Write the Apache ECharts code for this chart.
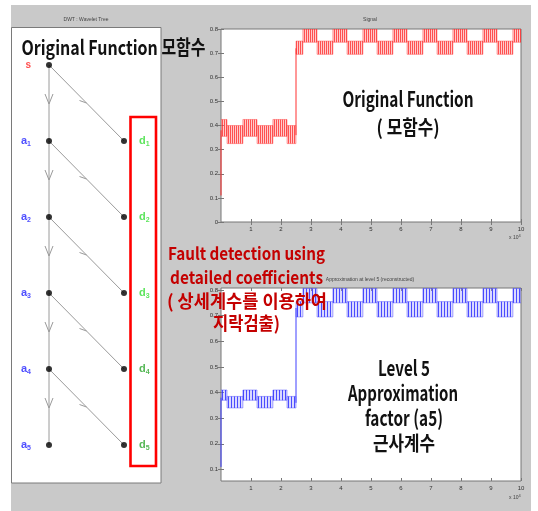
<!DOCTYPE html>
<html>
<head>
<meta charset="utf-8">
<script src="https://cdn.jsdelivr.net/npm/echarts@6/dist/echarts.min.js"></script>
<style>
html, body { margin: 0; padding: 0; background: #fff; }
#chart { width: 538px; height: 511px; }
</style>
</head>
<body>
<div id="chart"></div>
<script>
// ---------------- data ----------------
// time axis in units of 10^4 samples
const xTicks = [1, 2, 3, 4, 5, 6, 7, 8, 9, 10];
const signalYTicks = [0, 0.1, 0.2, 0.3, 0.4, 0.5, 0.6, 0.7, 0.8];
const approxYTicks = [0.1, 0.2, 0.3, 0.4, 0.5, 0.6, 0.7, 0.8];

// piecewise segments of the signal: each segment oscillates between a min and a max
const segStart = [0, 0.2, 0.73, 1.2, 1.73, 2.2, 2.5, 2.73, 3.2, 3.73, 4.2, 4.73, 5.2, 5.73, 6.2, 6.73, 7.2, 7.73, 8.2, 8.73, 9.2, 9.73];
const segEnd   = [0.2, 0.73, 1.2, 1.73, 2.2, 2.5, 2.73, 3.2, 3.73, 4.2, 4.73, 5.2, 5.73, 6.2, 6.73, 7.2, 7.73, 8.2, 8.73, 9.2, 9.73, 10];

// original signal s
const signalMin = [0.355, 0.325, 0.355, 0.325, 0.355, 0.325, 0.695, 0.745, 0.695, 0.745, 0.695, 0.745, 0.695, 0.745, 0.695, 0.745, 0.695, 0.745, 0.695, 0.745, 0.695, 0.745];
const signalMax = [0.425, 0.400, 0.425, 0.400, 0.425, 0.400, 0.750, 0.800, 0.750, 0.800, 0.750, 0.800, 0.750, 0.800, 0.750, 0.800, 0.750, 0.800, 0.750, 0.800, 0.750, 0.800];
const signalRise = [[0, 0.11], [0, 0.38]];
const signalStep = [[2.5, 0.36], [2.5, 0.72]];

// level-5 approximation a5 (reconstructed)
const approxMin = [0.370, 0.340, 0.370, 0.340, 0.370, 0.340, 0.695, 0.750, 0.695, 0.750, 0.695, 0.750, 0.695, 0.750, 0.695, 0.750, 0.695, 0.750, 0.695, 0.750, 0.695, 0.750];
const approxMax = [0.410, 0.385, 0.410, 0.385, 0.410, 0.385, 0.755, 0.806, 0.755, 0.806, 0.755, 0.806, 0.755, 0.806, 0.755, 0.806, 0.755, 0.806, 0.755, 0.806, 0.755, 0.806];
const approxRise = [[0, 0.11], [0, 0.38]];
const approxStep = [[2.5, 0.36], [2.5, 0.73]];

// wavelet decomposition tree
const approxNodes = ['s', 'a1', 'a2', 'a3', 'a4', 'a5'];
const detailNodes = ['d1', 'd2', 'd3', 'd4', 'd5'];

// ---------------- helpers ----------------
function stripePattern(w, lineColor, fillColor) {
  const c = document.createElement('canvas');
  c.width = w; c.height = 4;
  const g = c.getContext('2d');
  g.fillStyle = fillColor; g.fillRect(0, 0, w, 4);
  g.fillStyle = lineColor; g.fillRect(0, 0, 1, 4);
  return { image: c, repeat: 'repeat' };
}
const redStripes = stripePattern(2, 'rgba(255,30,30,0.7)', 'rgba(255,140,140,0.45)');
const blueStripes = stripePattern(3, 'rgba(40,40,255,0.8)', 'rgba(150,150,255,0.35)');

function bandSeries(xi, yi, mins, maxs, pattern, edge) {
  return {
    type: 'custom', xAxisIndex: xi, yAxisIndex: yi, clip: true, z: 3,
    data: segStart.map((s, i) => [s, segEnd[i], mins[i], maxs[i]]),
    encode: { x: [0, 1], y: [2, 3] },
    renderItem(params, api) {
      const p0 = api.coord([api.value(0), api.value(3)]);
      const p1 = api.coord([api.value(1), api.value(2)]);
      return {
        type: 'rect',
        shape: { x: p0[0], y: p0[1], width: p1[0] - p0[0], height: p1[1] - p0[1] },
        style: { fill: pattern, stroke: edge, lineWidth: 0.6 }
      };
    }
  };
}
function edgeLine(xi, yi, data, color) {
  return {
    type: 'line', xAxisIndex: xi, yAxisIndex: yi, data: data, z: 4,
    symbol: 'none', lineStyle: { color: color, width: 1 }, animation: false
  };
}

const tickFont = { fontFamily: 'Liberation Sans', fontSize: 6, color: '#333' };
const axisGray = '#777';

function xAxes(gridIndex) {
  const base = {
    type: 'value', gridIndex: gridIndex, min: 0, max: 10,
    axisLine: { show: false }, splitLine: { show: false },
    axisTick: { inside: true, length: 3, lineStyle: { color: axisGray }, customValues: xTicks }
  };
  return [
    Object.assign({}, base, { position: 'bottom',
      axisLabel: Object.assign({ customValues: xTicks, margin: 4 }, tickFont) }),
    Object.assign({}, base, { position: 'top', axisLabel: { show: false } })
  ];
}
function yAxes(gridIndex, min, max, ticks) {
  const base = {
    type: 'value', gridIndex: gridIndex, min: min, max: max,
    axisLine: { show: false }, splitLine: { show: false },
    axisTick: { inside: true, length: 3, lineStyle: { color: axisGray }, customValues: ticks }
  };
  return [
    Object.assign({}, base, { position: 'left',
      axisLabel: Object.assign({ customValues: ticks, margin: 3, formatter: v => String(+v.toFixed(2)) }, tickFont) }),
    Object.assign({}, base, { position: 'right', axisLabel: { show: false } })
  ];
}

// tree edges: approximation chain and detail branches
const treeEdges = [];
for (let i = 0; i < approxNodes.length - 1; i++) {
  treeEdges.push([0, i, 0, i + 1]);
  treeEdges.push([0, i, 1, i + 1]);
}
const treePoints = approxNodes.map((n, i) => ({ value: [0, i], name: n,
    label: { position: 'left', distance: 15 } }))
  .concat(detailNodes.map((n, i) => ({ value: [1, i + 1], name: n,
    label: { position: 'right', distance: 12 } })));

function nodeLabel(p) {
  const n = p.name;
  if (n === 's') return '{s|s}';
  const k = n[0], idx = +n.slice(1);
  if (k === 'a') return '{a|a}{as|' + idx + '}';
  return idx <= 3 ? '{d|d}{ds|' + idx + '}' : '{e|d}{es|' + idx + '}';
}

// annotation text, horizontally condensed to a given width
const bigFont = 'Noto Sans CJK KR';
const measureCtx = document.createElement('canvas').getContext('2d');
function bigText(text, x, y, size, color, width, align) {
  measureCtx.font = 'bold ' + size + 'px "' + bigFont + '"';
  const w = measureCtx.measureText(text).width;
  return {
    type: 'text', z: 100, x: x, y: y, scaleX: width / w,
    style: { text: text, fontFamily: bigFont, fontSize: size, fontWeight: 'bold',
      fill: color, align: align || 'center', verticalAlign: 'middle' }
  };
}
function smallTitle(text, x, y) {
  return {
    type: 'text', z: 5, x: x, y: y,
    style: { text: text, fontFamily: 'Liberation Sans', fontSize: 5, fill: '#444',
      align: 'center', verticalAlign: 'middle' }
  };
}
function expLabel(x, y) {
  return { type: 'text', z: 5, x: x, y: y, style: { text: 'x 10{s|4}', fontFamily: 'Liberation Sans', fontSize: 5, fill: '#444',
    rich: { s: { fontSize: 4, padding: [0, 0, 4, 0], fill: '#444' } } } };
}

const black = '#111';
const red = '#c40000';

const option = {
  animation: false,
  backgroundColor: '#fff',
  grid: [
    { left: 49, top: 65, width: 75, height: 380, show: false },
    { left: 221, top: 29, width: 300, height: 193, show: true, backgroundColor: '#fff', borderColor: axisGray, borderWidth: 1 },
    { left: 221, top: 288, width: 300, height: 193, show: true, backgroundColor: '#fff', borderColor: axisGray, borderWidth: 1 }
  ],
  xAxis: [
    { type: 'value', gridIndex: 0, min: 0, max: 1, show: false }
  ].concat(xAxes(1), xAxes(2)),
  yAxis: [
    { type: 'value', gridIndex: 0, min: 0, max: 5, inverse: true, show: false }
  ].concat(yAxes(1, 0, 0.8, signalYTicks), yAxes(2, 0.055, 0.808, approxYTicks)),
  graphic: [
    { type: 'rect', z: -100, shape: { x: 11, y: 5, width: 520, height: 506 }, style: { fill: '#c9c9c9' } },
    { type: 'rect', z: -90, shape: { x: 11.5, y: 27.5, width: 149.5, height: 455.5 }, style: { fill: '#fff', stroke: '#7a7a7a', lineWidth: 1 } },
    smallTitle('DWT : Wavelet Tree', 86, 20),
    smallTitle('Signal', 370, 20),
    smallTitle('Approximation at level 5 (reconstructed)', 370, 280),
    expLabel(509, 234),
    expLabel(509, 494),
    // highlight box around the detail coefficients
    { type: 'rect', z: 50, shape: { x: 130.5, y: 117, width: 25.5, height: 349 }, style: { fill: 'none', stroke: '#ff0000', lineWidth: 2.6 } },
    bigText('Original Function 모함수', 21.5, 47, 20, black, 184, 'left'),
    bigText('Original Function', 408, 99, 21, black, 131),
    bigText('( 모함수)', 408, 127, 20, black, 63),
    bigText('Fault detection using', 246.5, 254, 17, red, 157),
    bigText('detailed coefficients', 246.5, 278, 17, red, 153),
    bigText('( 상세계수를 이용하여', 247, 301, 18, red, 160),
    bigText('지락검출)', 246.5, 323, 18, red, 67),
    bigText('Level 5', 404, 368, 21, black, 52),
    bigText('Approximation', 403, 393, 21, black, 110),
    bigText('factor (a5)', 404, 418, 21, black, 78),
    bigText('근사계수', 404, 443, 20, black, 62)
  ],
  series: [
    // decomposition tree
    {
      type: 'custom', xAxisIndex: 0, yAxisIndex: 0, z: 2, clip: false,
      data: treeEdges,
      renderItem(params, api) {
        const a = api.coord([api.value(0), api.value(1)]);
        const b = api.coord([api.value(2), api.value(3)]);
        const mx = (a[0] + b[0]) / 2, my = (a[1] + b[1]) / 2;
        const st = { stroke: '#9a9a9a', lineWidth: 1, fill: 'none' };
        const children = [{ type: 'line', shape: { x1: a[0], y1: a[1], x2: b[0], y2: b[1] }, style: st }];
        if (api.value(0) === api.value(2)) {
          children.push({ type: 'polyline', shape: { points: [[mx - 4, my - 9], [mx, my + 1], [mx + 4, my - 9]] }, style: st });
        } else {
          children.push({ type: 'line', shape: { x1: mx, y1: my, x2: mx - 7, y2: my - 2.5 }, style: st });
        }
        return { type: 'group', children: children };
      }
    },
    {
      type: 'scatter', xAxisIndex: 0, yAxisIndex: 0, z: 3,
      symbol: 'circle', symbolSize: 6, itemStyle: { color: '#000' },
      data: treePoints,
      label: {
        show: true,
        formatter: nodeLabel,
        rich: {
          s: { color: '#ff2020', fontSize: 10, fontWeight: 'bold', fontFamily: 'Liberation Sans' },
          a: { color: '#2323ff', fontSize: 11, fontWeight: 'bold', fontFamily: 'Liberation Sans' },
          as: { color: '#2323ff', fontSize: 7, fontWeight: 'bold', fontFamily: 'Liberation Sans', padding: [7, 0, 0, 0] },
          d: { color: '#33dd33', fontSize: 11, fontWeight: 'bold', fontFamily: 'Liberation Sans' },
          ds: { color: '#33dd33', fontSize: 7, fontWeight: 'bold', fontFamily: 'Liberation Sans', padding: [7, 0, 0, 0] },
          e: { color: '#2aa52a', fontSize: 11, fontWeight: 'bold', fontFamily: 'Liberation Sans' },
          es: { color: '#2aa52a', fontSize: 7, fontWeight: 'bold', fontFamily: 'Liberation Sans', padding: [7, 0, 0, 0] }
        }
      }
    },
    // signal s
    bandSeries(1, 1, signalMin, signalMax, redStripes, 'rgba(255,60,60,0.7)'),
    edgeLine(1, 1, signalRise, '#ff3030'),
    edgeLine(1, 1, signalStep, '#ff3030'),
    // approximation a5
    bandSeries(3, 3, approxMin, approxMax, blueStripes, 'rgba(60,60,255,0.7)'),
    edgeLine(3, 3, approxRise, '#4040ff'),
    edgeLine(3, 3, approxStep, '#4040ff')
  ]
};

const chart = echarts.init(document.getElementById('chart'), null, { renderer: 'canvas' });
chart.setOption(option);
</script>
</body>
</html>
